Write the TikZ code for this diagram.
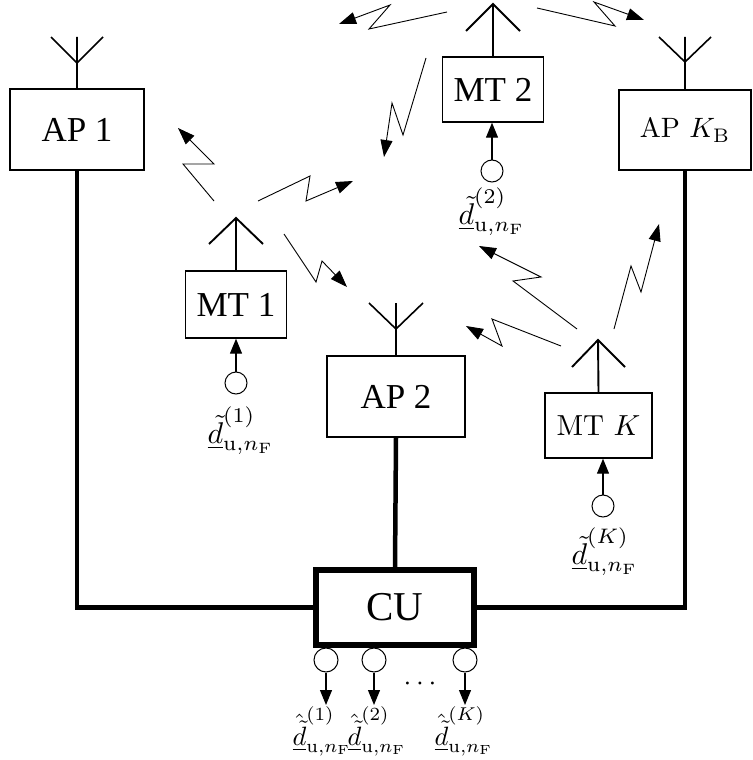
\documentclass[tikz,border=0pt]{standalone}
\usepackage{fontspec}
\newfontfamily\tms{Liberation Serif}
\usetikzlibrary{arrows.meta}
\tikzset{
  tbox/.style={draw, line width=1.4pt, inner sep=0pt, fill=white},
  ant/.style={line width=1.6pt},
  wire/.style={line width=4.5pt},
  zz/.style={line width=0.9pt, line join=miter, -{Triangle[length=17pt,width=12pt]}},
  src/.style={draw, circle, minimum size=22pt, inner sep=0pt, line width=1pt},
  feed/.style={line width=1.2pt, -{Triangle[length=15pt,width=12pt]}},
  ttext/.style={font=\tms\fontsize{35}{40}\selectfont},
  lbl/.style={inner sep=0pt}
}
\newcommand{\dlbl}[1]{\scalebox{3.0}{$\underline{\tilde{d}}^{(#1)}_{\mathrm{u},n_\mathrm{F}}$}}
\newcommand{\dhlbl}[1]{\scalebox{2.65}{$\underline{\hat{\tilde{d}}}^{(#1)}_{\mathrm{u},n_\mathrm{F}}$}}
\begin{document}
\begin{tikzpicture}[x=1pt,y=-1pt]
\useasboundingbox (0,0) rectangle (752,760);

% ---------- boxes ----------
\node[tbox, ttext, minimum width=134pt, minimum height=81pt] (ap1) at (77,129.5) {AP 1};
\node[tbox, ttext, minimum width=138pt, minimum height=81pt] (ap2) at (396,396.5) {AP 2};
\node[tbox, minimum width=132pt, minimum height=80pt] (apk) at (685,130) {\scalebox{2.8}{AP $K_\mathrm{B}$}};
\node[tbox, ttext, minimum width=101pt, minimum height=67pt] (mt1) at (236,304.5) {MT 1};
\node[tbox, ttext, minimum width=101pt, minimum height=65pt] (mt2) at (493,89.5) {MT 2};
\node[tbox, minimum width=107pt, minimum height=65pt] (mtk) at (598.5,425.5) {\scalebox{2.9}{MT $K$}};
\node[draw, line width=6pt, inner sep=0pt, fill=white, font=\tms\fontsize{41}{46}\selectfont,
      minimum width=158pt, minimum height=75pt] (cu) at (395,607.5) {CU};

% ---------- wires ----------
\draw[wire] (ap1.south) |- (cu.west);
\draw[wire] (ap2.south) -- (cu.north);
\draw[wire] (apk.south) |- (cu.east);

% ---------- AP antennas (Y shape) ----------
\draw[ant] (ap1.north) -- (77,37) (51,37) -- (77,63) -- (103,37);
\draw[ant] (ap2.north) -- (396,303) (369,303) -- (396,329) -- (423,303);
\draw[ant] (apk.north) -- (685,37) (659,37) -- (685,62) -- (711,37);

% ---------- MT antennas (arrow shape) ----------
\draw[ant, line width=1.9pt] (mt1.north) -- (236,218) (209,244) -- (236,218) -- (263,244);
\draw[ant, line width=1.9pt] (mt2.north) -- (493,4) (466,31) -- (493,4) -- (520,31);
\draw[ant, line width=1.9pt] (mtk.north) -- (598,340) (572,367) -- (598,340) -- (625,367);

% ---------- zigzag radio links ----------
\draw[zz] (214,201) -- (183,164) -- (214,164) -- (178,128);
\draw[zz] (258,201) -- (310,176) -- (306,201) -- (353,181);
\draw[zz] (284,234) -- (316,282) -- (322,261) -- (347,287);
\draw[zz] (447,12) -- (369,29) -- (390,5) -- (339,24);
\draw[zz] (537,8) -- (615,26) -- (594,2) -- (644,20);
\draw[zz] (426,58) -- (403,135) -- (392,103) -- (384,157);
\draw[zz] (577,329) -- (513,281) -- (541,277) -- (479,246);
\draw[zz] (561,346) -- (492,319) -- (502,346) -- (466,326);
\draw[zz] (614,329) -- (631,266) -- (641,292) -- (659,224);

% ---------- MT sources ----------
\node[src] (s1) at (236,383) {};
\node[src] (s2) at (492,171) {};
\node[src] (sk) at (603,506) {};
\draw[feed] (s1.north) -- (s1.north |- mt1.south);
\draw[feed] (s2.north) -- (s2.north |- mt2.south);
\draw[feed] (sk.north) -- (sk.north |- mtk.south);
\node[lbl] (l1) at (241,431) {\dlbl{1}};
\node[lbl] (l2) at (492,212) {\dlbl{2}};
\node[lbl] (lk) at (605,552) {\dlbl{K}};

% ---------- CU outputs ----------
\node[src, minimum size=24pt] (o1) at (326,660) {};
\node[src, minimum size=24pt] (o2) at (374,660) {};
\node[src, minimum size=24pt] (ok) at (465,660) {};
\coordinate (e1) at (326,705);
\coordinate (e2) at (374,705);
\coordinate (ek) at (465,705);
\draw[feed] (o1.south) -- (e1);
\draw[feed] (o2.south) -- (e2);
\draw[feed] (ok.south) -- (ek);
\node (dots) at (420,684) {\scalebox{2.8}{$\cdots$}};
\node[lbl] (h1) at (322,731) {\dhlbl{1}};
\node[lbl] (h2) at (377,731) {\dhlbl{2}};
\node[lbl] (hk) at (464,731) {\dhlbl{K}};
\end{tikzpicture}
\end{document}
